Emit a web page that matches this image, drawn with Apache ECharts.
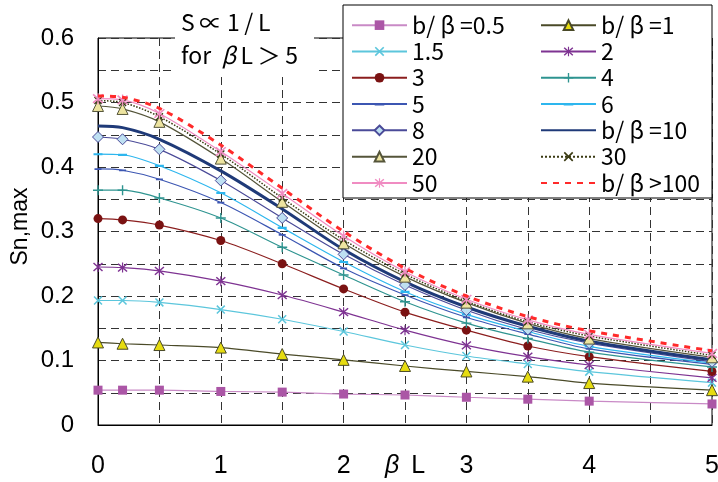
<!DOCTYPE html>
<html>
<head>
<meta charset="utf-8">
<script src="https://cdn.jsdelivr.net/npm/echarts@6/dist/echarts.min.js"></script>
<style>html,body{margin:0;padding:0;background:#fff;}#c{width:718px;height:482px;}</style>
</head>
<body>
<div id="c"></div>
<script>
const betaL = [0, 0.2, 0.5, 1, 1.5, 2, 2.5, 3, 3.5, 4, 5];
const xTicks = ['0', '1', '2', '3', '4', '5'];
const yTicks = ['0', '0.1', '0.2', '0.3', '0.4', '0.5', '0.6'];
const s05  = [0.054, 0.054, 0.054, 0.052, 0.051, 0.048, 0.0465, 0.043, 0.040, 0.037, 0.0326];
const s1   = [0.128, 0.126, 0.124, 0.120, 0.110, 0.101, 0.0915, 0.083, 0.075, 0.0650, 0.054];
const s15  = [0.193, 0.193, 0.190, 0.179, 0.164, 0.145, 0.124, 0.107, 0.0946, 0.0827, 0.0656];
const s2   = [0.245, 0.244, 0.239, 0.223, 0.2015, 0.175, 0.147, 0.1235, 0.106, 0.093, 0.073];
const s3   = [0.320, 0.318, 0.310, 0.286, 0.250, 0.211, 0.175, 0.147, 0.1225, 0.106, 0.083];
const s4   = [0.364, 0.364, 0.352, 0.321, 0.2755, 0.2326, 0.191, 0.158, 0.134, 0.113, 0.090];
const s5   = [0.397, 0.395, 0.381, 0.345, 0.295, 0.243, 0.2016, 0.167, 0.141, 0.118, 0.094];
const s6   = [0.420, 0.419, 0.402, 0.360, 0.306, 0.253, 0.2067, 0.1716, 0.145, 0.122, 0.096];
const s8   = [0.4465, 0.443, 0.4274, 0.379, 0.321, 0.2646, 0.217, 0.178, 0.148, 0.127, 0.098];
const s10  = [0.4636, 0.461, 0.443, 0.394, 0.335, 0.272, 0.222, 0.183, 0.153, 0.130, 0.101];
const s20  = [0.4946, 0.490, 0.470, 0.413, 0.346, 0.2817, 0.230, 0.1897, 0.1576, 0.134, 0.105];
const s30  = [0.503, 0.500, 0.478, 0.420, 0.352, 0.287, 0.234, 0.192, 0.160, 0.138, 0.108];
const s50  = [0.506, 0.504, 0.483, 0.424, 0.359, 0.293, 0.2377, 0.195, 0.163, 0.1406, 0.111];
const s100 = [0.510, 0.508, 0.491, 0.434, 0.367, 0.300, 0.243, 0.200, 0.168, 0.146, 0.115];

const names = ['b/ β =0.5', 'b/ β =1', '1.5', '2', '3', '4', '5', '6', '8', 'b/ β =10', '20', '30', '50', 'b/ β >100'];
const noMarker = ['b/ β =10', 'b/ β >100'];

const CROSS = 'path://M0,1.2 L1.2,0 L10,8.8 L8.8,10 Z M8.8,0 L10,1.2 L1.2,10 L0,8.8 Z';
const STAR = 'path://M0,1.6 L1,0.6 L10,8.4 L9,9.4 Z M9,0.6 L10,1.6 L1,9.4 L0,8.4 Z M4.4,0 L5.6,0 L5.6,10 L4.4,10 Z';
const PLUS = 'path://M4.3,0 L5.7,0 L5.7,10 L4.3,10 Z M0,4.3 L10,4.3 L10,5.7 L0,5.7 Z';
const DASH = 'path://M0,0 L0.05,0 L0.05,0.05 Z M0,4 L10,4 L10,6.4 L0,6.4 Z M9.95,9.95 L10,9.95 L10,10 Z';

function mk(name, vals, lineColor, o) {
  o = o || {};
  return {
    name: name,
    type: 'line',
    smooth: 0.3,
    data: betaL.map((x, i) => [x, vals[i]]),
    symbol: o.symbol || 'none',
    symbolSize: o.size || 8,
    showSymbol: !!o.symbol,
    lineStyle: { color: lineColor, width: o.width || 1.2, type: o.type || 'solid' },
    itemStyle: { color: o.fill || lineColor, borderColor: o.border || (o.fill || lineColor), borderWidth: o.bw || 0 },
    z: o.z || 2,
    emphasis: { disabled: true },
    animation: false
  };
}

const series = [
  mk(names[0], s05, '#C98AC6', { symbol: 'rect', size: 9, fill: '#AB56A6' }),
  mk(names[1], s1, '#4A4A28', { symbol: 'triangle', size: 11, fill: '#E6DC10', border: '#4A4A28', bw: 1 }),
  mk(names[2], s15, '#5CC6DC', { symbol: CROSS, size: 9 }),
  mk(names[3], s2, '#7E3392', { symbol: STAR, size: 10 }),
  mk(names[4], s3, '#8B1E1E', { symbol: 'circle', size: 9, fill: '#7A1212' }),
  mk(names[5], s4, '#2E9490', { symbol: PLUS, size: 10 }),
  mk(names[6], s5, '#3C56B2', { symbol: DASH, size: 7 }),
  mk(names[7], s6, '#2DB6EE', { symbol: DASH, size: 9 }),
  mk(names[8], s8, '#4A4A98', { symbol: 'diamond', size: 11, fill: '#BEE0F2', border: '#4A4A98', bw: 1 }),
  mk(names[9], s10, '#1F3A78', { width: 3 }),
  mk(names[10], s20, '#55553A', { symbol: 'triangle', size: 11, fill: '#EDE4A0', border: '#55553A', bw: 1 }),
  mk(names[11], s30, '#3A3A12', { symbol: CROSS, size: 8, type: 'dotted', width: 1.5 }),
  mk(names[12], s50, '#F08CC2', { symbol: STAR, size: 11 }),
  mk(names[13], s100, '#FF2A2A', { width: 3, type: [6, 6], z: 3 })
];

const tickFont = '"Liberation Sans", Arial, sans-serif';
const jpFont = '"Noto Sans CJK JP", "Liberation Sans", sans-serif';

function legendData(filterOdd) {
  return names.filter((n, i) => i % 2 === filterOdd).map(n =>
    noMarker.indexOf(n) >= 0 ? { name: n, itemStyle: { opacity: 0 } } : { name: n });
}

const legendCommon = {
  orient: 'vertical',
  top: 12,
  padding: 0,
  itemWidth: 55,
  itemHeight: 12,
  itemGap: 0,
  z: 20,
  selectedMode: false,
  textStyle: { fontSize: 23, lineHeight: 26.3, color: '#000', fontFamily: jpFont }
};

const option = {
  backgroundColor: '#fff',
  animation: false,
  grid: { left: 98, right: 6, top: 38, bottom: 57, containLabel: false, outerBoundsMode: 'none',
    show: true, borderColor: '#000', borderWidth: 1, backgroundColor: 'transparent' },
  xAxis: {
    type: 'value', min: 0, max: 5, interval: 0.5,
    name: '{b|β}\u2009 L', nameLocation: 'middle', nameGap: 29, nameMoveOverlap: false,
    nameTextStyle: { fontSize: 25, color: '#000', fontFamily: tickFont, verticalAlign: 'top',
      rich: { b: { fontSize: 25, fontStyle: 'italic', fontFamily: tickFont, color: '#000' } } },
    axisLine: { show: true, lineStyle: { color: '#000', width: 1 } },
    axisTick: { show: false },
    axisLabel: {
      margin: 29, fontSize: 25, color: '#000', fontFamily: tickFont,
      formatter: v => (Math.abs(v - Math.round(v)) < 1e-6 ? xTicks[Math.round(v)] : '')
    },
    splitLine: { show: true, lineStyle: { color: '#333', width: 1, type: [8, 5] } }
  },
  yAxis: {
    type: 'value', min: 0, max: 0.6, interval: 0.05,
    name: 'Sn,max', nameLocation: 'middle', nameGap: 66, nameMoveOverlap: false,
    nameTextStyle: { fontSize: 23, color: '#000', fontFamily: tickFont, padding: [0, 0, 0, 10] },
    axisLine: { show: true, lineStyle: { color: '#000', width: 1 } },
    axisTick: { show: false },
    axisLabel: {
      margin: 24, fontSize: 24, color: '#000', fontFamily: tickFont,
      formatter: v => { const k = Math.round(v * 20); return k % 2 === 0 ? yTicks[k / 2] : ''; }
    },
    splitLine: { show: true, lineStyle: { color: '#333', width: 1, type: [8, 5] } }
  },
  legend: [
    Object.assign({}, legendCommon, { left: 351, data: legendData(0) }),
    Object.assign({}, legendCommon, { left: 540, data: legendData(1) })
  ],
  graphic: [
    { type: 'rect', z: 15, shape: { x: 343, y: 5, width: 369, height: 193 },
      style: { fill: '#fff', stroke: '#000', lineWidth: 1 } },
    { type: 'rect', z: 15, shape: { x: 175, y: 0, width: 139, height: 77 },
      style: { fill: '#fff', stroke: null } },
    { type: 'text', z: 16, left: 181, top: 11,
      style: { text: 'S\u2009∝\u20091\u2009/\u2009L', fontSize: 23, fill: '#000', fontFamily: jpFont } },
    { type: 'text', z: 16, left: 181, top: 44,
      style: { text: 'for  {b|β}\u2009L\u2009＞\u20095', fontSize: 23, fill: '#000', fontFamily: jpFont,
        rich: { b: { fontSize: 23, fontStyle: 'italic', fontFamily: jpFont, fill: '#000' } } } }
  ],
  series: series
};

const chart = echarts.init(document.getElementById('c'), null, { renderer: 'canvas' });
chart.setOption(option);
</script>
</body>
</html>
